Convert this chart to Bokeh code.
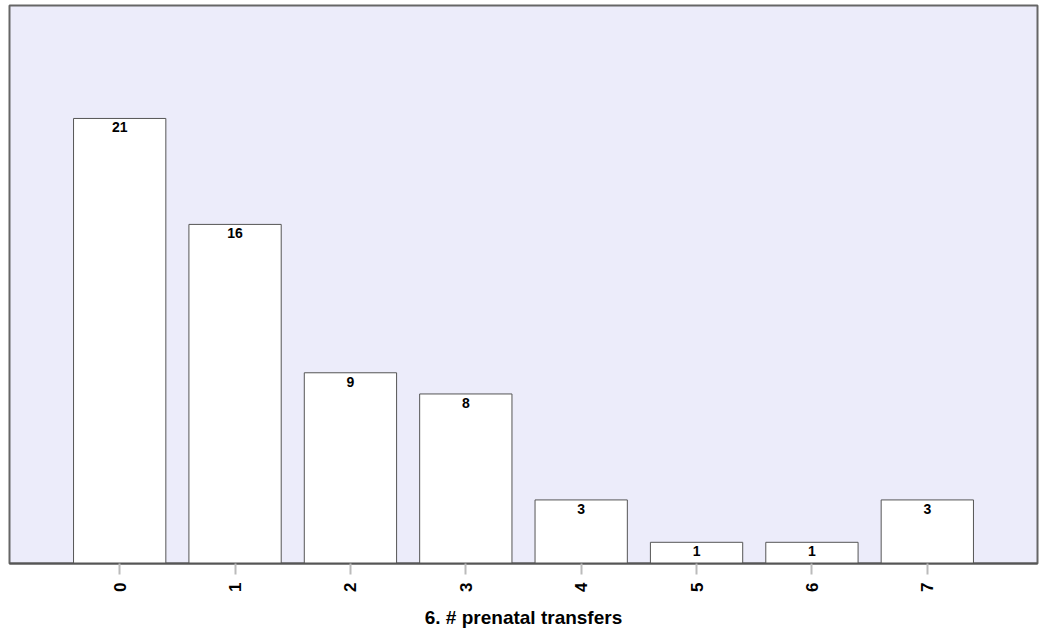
import math
from bokeh.plotting import figure
from bokeh.models import Range1d, FixedTicker, ColumnDataSource
from bokeh.core.properties import value
from bokeh.embed import file_html
from bokeh.resources import INLINE

categories = [0, 1, 2, 3, 4, 5, 6, 7]
counts = [21, 16, 9, 8, 3, 1, 1, 3]
x_label = "6. # prenatal transfers"

src = ColumnDataSource(dict(x=categories, top=counts, lab=[str(c) for c in counts]))

p = figure(width=1041, height=632, output_backend="svg", toolbar_location=None,
           x_range=Range1d(-0.955, 7.955), y_range=Range1d(0, 26.33),
           min_border_left=9, min_border_right=4, min_border_top=5, min_border_bottom=69)
p.background_fill_color = "#ECECFA"
p.border_fill_color = "white"
p.outline_line_color = "#666666"
p.outline_line_width = 2
p.grid.visible = False
p.yaxis.visible = False

p.vbar(x="x", top="top", bottom=0, width=0.8, source=src,
       fill_color="white", line_color="#555555", line_width=1)
p.text(x="x", y="top", text="lab", source=src, text_align="center", text_baseline="top",
       y_offset=4, text_font=value("Liberation Sans"), text_font_style="bold",
       text_font_size="14px", text_color="black")

ax = p.xaxis[0]
ax.ticker = FixedTicker(ticks=categories)
ax.axis_label = x_label
ax.axis_label_text_font = "Liberation Sans"
ax.axis_label_text_font_style = "bold"
ax.axis_label_text_font_size = "19px"
ax.axis_label_text_color = "black"
ax.axis_label_standoff = 12
ax.major_label_orientation = math.pi / 2
ax.major_label_text_font = "Liberation Sans"
ax.major_label_text_font_style = "bold"
ax.major_label_text_font_size = "17px"
ax.major_label_text_color = "black"
ax.major_label_standoff = 8
ax.major_tick_in = 0
ax.major_tick_out = 11
ax.major_tick_line_color = "#bbbbbb"
ax.major_tick_line_width = 2
ax.minor_tick_line_color = None
ax.axis_line_color = "#555555"
ax.axis_line_width = 2

open("out.html", "w").write(file_html(p, INLINE))
